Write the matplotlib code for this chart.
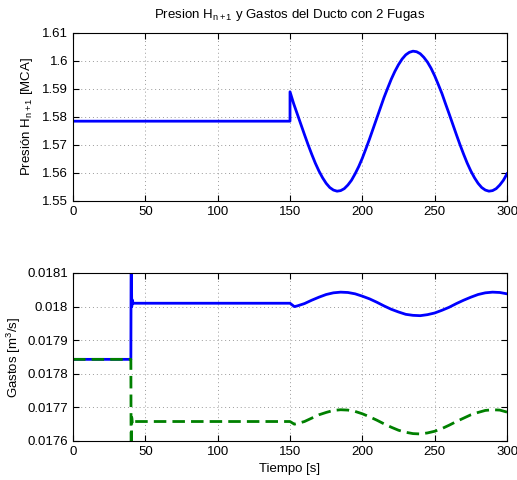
import matplotlib
matplotlib.use('Agg')
import matplotlib.pyplot as plt
from matplotlib.ticker import FuncFormatter

plt.rcParams['font.family'] = ['Liberation Sans', 'DejaVu Sans']
plt.rcParams['mathtext.fontset'] = 'custom'
plt.rcParams['mathtext.rm'] = 'Liberation Sans'
plt.rcParams['mathtext.it'] = 'Liberation Sans'
plt.rcParams['font.size'] = 9.5

# presion H_{n+1}
t_pres = [0, 150, 150, 152.5, 155, 157.5, 160, 162.5, 165, 167.5, 170, 172.5, 175,
          177.5, 180, 182.5, 185, 187.5, 190, 192.5, 195, 197.5, 200, 202.5, 205,
          207.5, 210, 212.5, 215, 217.5, 220, 222.5, 225, 227.5, 230, 232.5, 235,
          237.5, 240, 242.5, 245, 247.5, 250, 252.5, 255, 257.5, 260, 262.5, 265,
          267.5, 270, 272.5, 275, 277.5, 280, 282.5, 285, 287.5, 290, 292.5, 295,
          297.5, 300]
pres = [1.5785, 1.5785, 1.5890, 1.5848, 1.5811, 1.5774, 1.5737, 1.5701, 1.5667,
        1.5635, 1.5607, 1.5583, 1.5563, 1.5548, 1.5539, 1.5535, 1.5537, 1.5544,
        1.5557, 1.5574, 1.5597, 1.5623, 1.5653, 1.5687, 1.5722, 1.5759, 1.5796,
        1.5833, 1.5870, 1.5903, 1.5935, 1.5963, 1.5987, 1.6007, 1.6022, 1.6031,
        1.6035, 1.6033, 1.6026, 1.6013, 1.5996, 1.5974, 1.5947, 1.5916, 1.5884,
        1.5847, 1.5811, 1.5774, 1.5737, 1.5701, 1.5667, 1.5635, 1.5607, 1.5583,
        1.5563, 1.5548, 1.5539, 1.5535, 1.5537, 1.5544, 1.5557, 1.5574, 1.5597]

# gastos
t_gasto = [0, 40, 40.2, 40.6, 41, 41.5, 150, 153, 155, 160, 165, 170, 175, 180,
           185, 190, 195, 200, 205, 210, 215, 220, 225, 230, 235, 240, 245, 250,
           255, 260, 265, 270, 275, 280, 285, 290, 295, 300]
q_entrada = [0.017843, 0.017843, 0.018200, 0.018000, 0.018020, 0.018010, 0.018010,
             0.018000, 0.018002, 0.018009, 0.018019, 0.018028, 0.018036, 0.018041,
             0.018043, 0.018042, 0.018038, 0.018031, 0.018023, 0.018013, 0.018002,
             0.017992, 0.017984, 0.017977, 0.017974, 0.017973, 0.017976, 0.017981,
             0.017989, 0.017998, 0.018009, 0.018019, 0.018028, 0.018036, 0.018041,
             0.018043, 0.018042, 0.018038]
q_salida = [0.017843, 0.017843, 0.017500, 0.017670, 0.017650, 0.017658, 0.017658,
            0.017650, 0.017652, 0.017658, 0.017668, 0.017678, 0.017685, 0.017691,
            0.017693, 0.017692, 0.017688, 0.017681, 0.017672, 0.017662, 0.017651,
            0.017641, 0.017632, 0.017626, 0.017622, 0.017621, 0.017624, 0.017629,
            0.017637, 0.017647, 0.017658, 0.017668, 0.017678, 0.017685, 0.017691,
            0.017693, 0.017692, 0.017686]

xticks = [0, 50, 100, 150, 200, 250, 300]
pres_ticks = [1.55, 1.56, 1.57, 1.58, 1.59, 1.60, 1.61]
gasto_ticks = [0.0176, 0.0177, 0.0178, 0.0179, 0.0180, 0.0181]

fig = plt.figure(figsize=(5.17, 4.8), dpi=100)
ax1 = fig.add_axes([0.1412, 0.5813, 0.8395, 0.35])
ax2 = fig.add_axes([0.1412, 0.08125, 0.8395, 0.35])

fmt = FuncFormatter(lambda v, p: '%g' % round(v, 6))

ax1.plot(t_pres, pres, color='#0000ff', linewidth=2)
ax1.set_ylim(1.55, 1.61)
ax1.set_yticks(pres_ticks)
ax1.set_ylabel('Presión H$_{n+1}$ [MCA]', labelpad=5)
ax1.set_title('Presion H$_{n+1}$ y Gastos del Ducto con 2 Fugas', fontsize=9.5, pad=11)

ax2.plot(t_gasto, q_entrada, color='#0000ff', linewidth=2)
ax2.plot(t_gasto, q_salida, color='#008000', linewidth=2, dashes=(4.5, 2.2))
ax2.set_ylim(0.0176, 0.0181)
ax2.set_yticks(gasto_ticks)
ax2.set_ylabel('Gastos [m$^3$/s]', labelpad=3)
ax2.set_xlabel('Tiempo [s]', labelpad=4)

for ax in (ax1, ax2):
    ax.set_xlim(0, 300)
    ax.set_xticks(xticks)
    ax.yaxis.set_major_formatter(fmt)
    ax.grid(True, linestyle=(0, (1, 3)), color='#999999', linewidth=0.7)
    ax.tick_params(direction='in', top=True, right=True, length=4, labelsize=9.5)
    for s in ax.spines.values():
        s.set_linewidth(0.8)

fig.savefig('out.png', dpi=100)
